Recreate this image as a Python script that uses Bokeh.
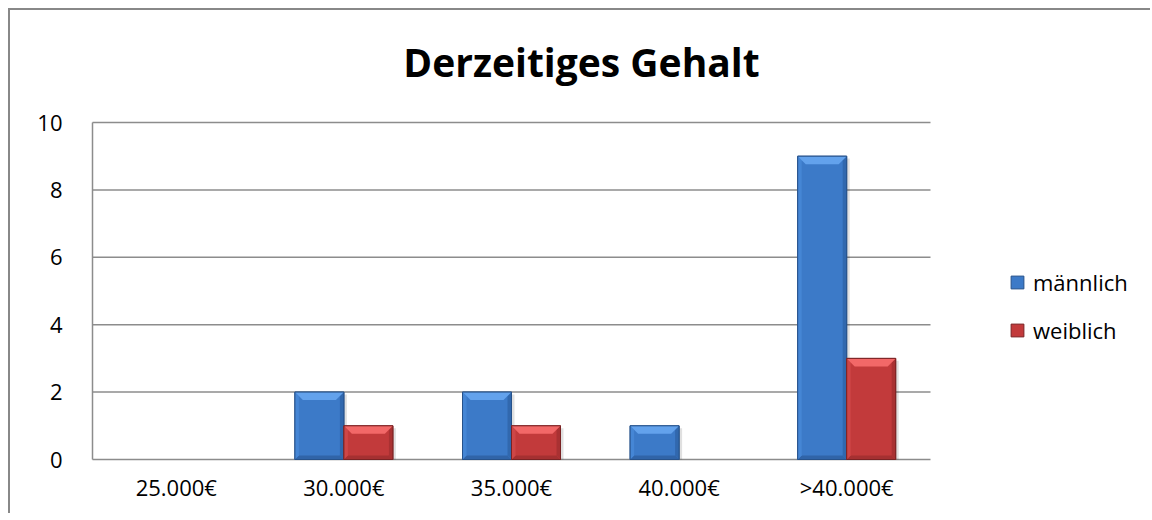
from bokeh.plotting import figure
from bokeh.models import FixedTicker, Legend, LegendItem, Range1d, Label
from bokeh.embed import file_html
from bokeh.resources import INLINE

# ---- data ----
categories = ["25.000€", "30.000€", "35.000€", "40.000€", ">40.000€"]
maennlich = [0, 2, 2, 1, 9]
weiblich = [0, 1, 1, 0, 3]
series_names = ["männlich", "weiblich"]
y_ticks = [0, 2, 4, 6, 8, 10]
title_text = "Derzeitiges Gehalt"

# ---- layout (pixels) ----
W, H = 1142, 505            # canvas, placed at page (10, 10)
N = len(categories)
YMAX = max(y_ticks)
CAT_PX = 838 / N            # width of one category slot
UNIT_PX_Y = 337 / YMAX      # pixels per y unit
EDGE = 2                    # padding so edge lines are not clipped
ML, MR, MT = 80, 0, 0
AXIS_TOP = 112              # canvas y of the value YMAX
MB = H - (AXIS_TOP + 337 + EDGE)
FRAME_W = W - ML - MR
X0 = -EDGE / CAT_PX
X_END = X0 + FRAME_W / CAT_PX
Y0 = -EDGE / UNIT_PX_Y
Y_END = YMAX + AXIS_TOP / UNIT_PX_Y
BAR_W = 49 / CAT_PX
BX = 8 / CAT_PX
BY = 8 / UNIT_PX_Y
SX = 3 / CAT_PX
TITLE_CX = 489 / CAT_PX      # title centre, relative to axis
TITLE_BASE = 398 / UNIT_PX_Y # title anchor above the zero line

GRID = "#8c8c8c"
FONT = "Open Sans"

styles = {
    "männlich": dict(main="#3C7AC8", top="#63A2EC", left="#4586D5", right="#3168AE",
                     bottom="#3064A8", line="#27528A"),
    "weiblich": dict(main="#C23A3B", top="#F26868", left="#CD4647", right="#A93132",
                     bottom="#A53031", line="#7A2324"),
}

p = figure(width=W, height=H, output_backend="svg", toolbar_location=None, tools="",
           x_range=Range1d(X0, X_END), y_range=Range1d(Y0, Y_END),
           min_border_left=ML, min_border_right=MR, min_border_top=MT,
           min_border_bottom=MB, outline_line_color=None,
           background_fill_color="white", border_fill_color="white")
p.toolbar.logo = None
p.styles = {
    "margin-left": "10px", "margin-top": "10px",
    "box-shadow": "-2px -2px 0 0 #888888",
    "clip-path": ("polygon(-2px -2px, 100% -2px, 100% 0px, calc(100% - 12px) 0px, "
                  "calc(100% - 12px) 34px, 100% 34px, 100% 100%, -2px 100%)"),
}

# axes
centers = [i + 0.5 for i in range(N)]
p.xaxis.ticker = FixedTicker(ticks=centers)
p.xaxis.major_label_overrides = {c: lab for c, lab in zip(centers, categories)}
p.yaxis.ticker = FixedTicker(ticks=y_ticks)
for ax in (p.xaxis[0], p.yaxis[0]):
    ax.major_tick_line_color = None
    ax.minor_tick_line_color = None
    ax.axis_line_color = None
    ax.major_label_text_font = FONT
    ax.major_label_text_font_size = "22px"
    ax.major_label_text_color = "black"
p.xaxis.major_label_standoff = 4
p.yaxis.major_label_standoff = 22
p.xgrid.visible = False
p.ygrid.visible = False

# gridlines and the value axis line across the category area only
p.segment(x0=[0] * len(y_ticks), x1=[N] * len(y_ticks), y0=y_ticks, y1=y_ticks,
          line_color=GRID, line_width=1.5)
p.segment(x0=[0], x1=[0], y0=[0], y1=[YMAX], line_color=GRID, line_width=1.5)

legend_items = []
for name, values, side in ((series_names[0], maennlich, -1), (series_names[1], weiblich, 0)):
    st = styles[name]
    L, R, T = [], [], []
    faces = {"top": ([], []), "left": ([], []), "right": ([], []), "bottom": ([], [])}
    sh_l, sh_r, sh_t = [], [], []
    for i, v in enumerate(values):
        if v <= 0:
            continue
        c = centers[i]
        x0 = c - BAR_W if side < 0 else c
        x1 = x0 + BAR_W
        L.append(x0); R.append(x1); T.append(v)
        sh_l.append(x0 + SX); sh_r.append(x1 + SX); sh_t.append(v - BY * 0.3)
        faces["top"][0].append([x0, x1, x1 - BX, x0 + BX])
        faces["top"][1].append([v, v, v - BY, v - BY])
        faces["left"][0].append([x0, x0 + BX * 0.5, x0 + BX * 0.5, x0])
        faces["left"][1].append([v, v - BY * 0.5, BY * 0.5, 0])
        faces["right"][0].append([x1, x1 - BX * 0.5, x1 - BX * 0.5, x1])
        faces["right"][1].append([v, v - BY * 0.5, BY * 0.5, 0])
        faces["bottom"][0].append([x0, x1, x1 - BX * 0.5, x0 + BX * 0.5])
        faces["bottom"][1].append([0, 0, BY * 0.5, BY * 0.5])
    p.quad(left=sh_l, right=sh_r, bottom=[0] * len(sh_l), top=sh_t,
           fill_color="#000000", fill_alpha=0.12, line_color=None)
    r = p.quad(left=L, right=R, bottom=[0] * len(L), top=T,
               fill_color=st["main"], line_color=st["line"], line_width=1)
    for fname in ("bottom", "left", "right", "top"):
        xs, ys = faces[fname]
        p.patches(xs=xs, ys=ys, fill_color=st[fname], line_color=None)
    p.quad(left=L, right=R, bottom=[0] * len(L), top=T,
           fill_color=None, line_color=st["line"], line_width=1)
    legend_items.append(LegendItem(label=name, renderers=[r]))

# title
p.add_layout(Label(x=TITLE_CX, y=TITLE_BASE, text=title_text, text_align="center",
                   text_baseline="alphabetic", text_font=FONT, text_font_size="39px",
                   text_font_style="bold", text_color="black"))

legend = Legend(items=legend_items, location=(919, 116),
                border_line_color=None, background_fill_alpha=0,
                label_text_font=FONT, label_text_font_size="22px",
                label_text_color="black", glyph_width=16, glyph_height=16,
                label_height=22, spacing=18, padding=10, margin=0,
                label_standoff=8)
p.add_layout(legend, "center")

open("out.html", "w").write(file_html(p, INLINE))
